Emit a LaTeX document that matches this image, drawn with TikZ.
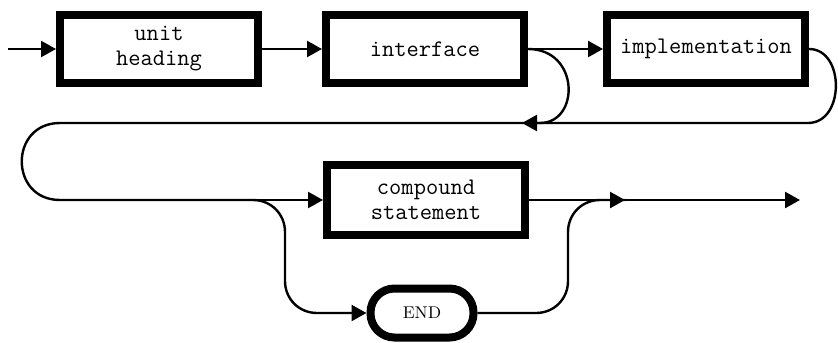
\documentclass[tikz,border=0pt]{standalone}
\usetikzlibrary{arrows.meta, positioning}

\begin{document}
\begin{tikzpicture}[x=0.5pt, y=-0.5pt,
  box/.style={draw, line width=4pt, minimum width=99pt, minimum height=34pt,
    inner sep=0pt, align=center, font=\fontsize{11.9}{12.5}\selectfont\ttfamily},
  endbox/.style={draw, line width=4pt, rounded corners=12pt, minimum width=51.5pt,
    minimum height=24.5pt, inner sep=0pt, font=\fontsize{8.5}{10}\selectfont},
  conn/.style={line width=1.2pt},
  arr/.style={conn, -{Triangle[length=7.5pt,width=8pt]}}]
  \useasboundingbox (0,0) rectangle (838,342);
  % boxes
  \node[box] (uh) at (159,49) {unit\\heading};
  \node[box] (intf) at (425,49) {interface};
  \node[box] (impl) at (706,49) {implementation};
  \node[box, minimum height=35pt] (cs) at (426,200) {compound\\statement};
  \node[endbox] (endn) at (422,313) {END};
  % free ends and merge points
  \coordinate (entry) at (8,49);
  \coordinate (exit) at (800,200);
  \coordinate (m1) at (522,123);
  \coordinate (m2) at (625,200);
  \coordinate (fork) at (253,200);
  % first line
  \draw[arr] (entry) -- (uh.west);
  \foreach \a/\b in {uh/intf, intf/impl}
    \draw[arr] (\a.east) -- (\b.west);
  % loops back to second line
  \draw[arr] (intf.east) .. controls (580,49) and (580,123) .. (540,123) -- (m1);
  \draw[conn] (impl.east) .. controls (845,49) and (845,123) .. (808,123) -- (60,123)
    .. controls (9,123) and (9,200) .. (60,200) -- (fork);
  % second line
  \draw[arr] (fork) -- (cs.west);
  \draw[arr] (fork) .. controls (271,200) and (285,214) .. (285,232) -- (285,281)
    .. controls (285,299) and (299,313) .. (317,313) -- (endn.west);
  \draw[arr] (cs.east) -- (m2);
  \draw[conn] (endn.east) -- (536,313) .. controls (554,313) and (568,299) .. (568,281)
    -- (568,232) .. controls (568,214) and (582,200) .. (600,200) -- (m2);
  \draw[arr] (m2) -- (exit);
\end{tikzpicture}
\end{document}
